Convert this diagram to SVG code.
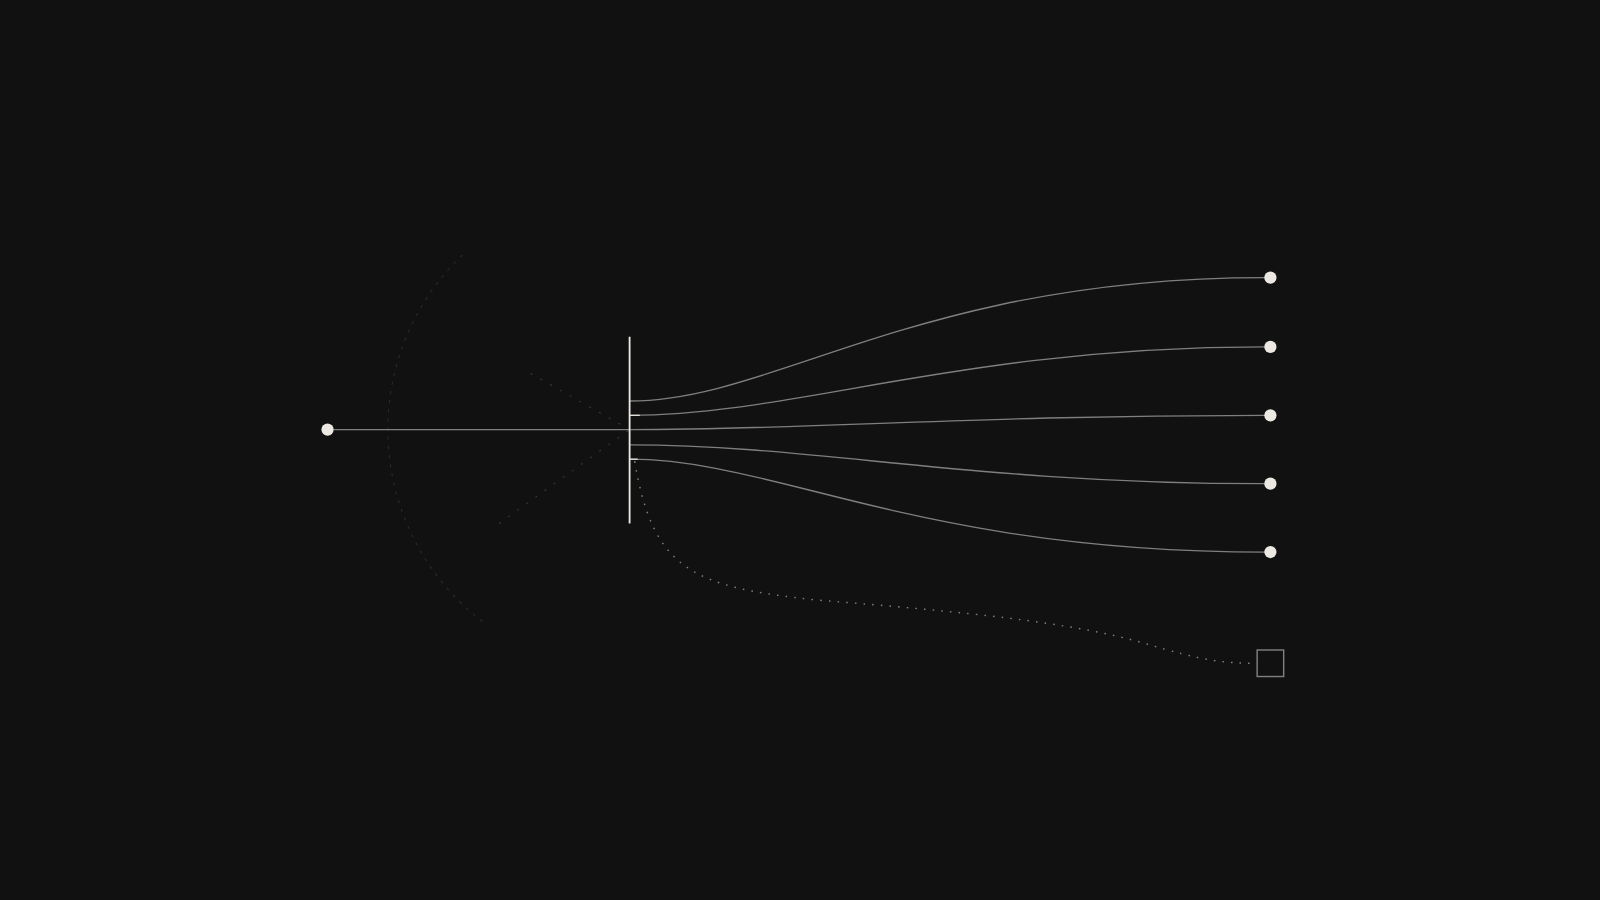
<svg xmlns="http://www.w3.org/2000/svg" width="1600" height="900" viewBox="0 0 1600 900">
<style>
.line{fill:none;stroke:#7f7f7f;stroke-width:1.3}
.dot{fill:#ece9e2}
.faint{fill:none;stroke:#2c2c2c;stroke-width:1;stroke-dasharray:3 6}
.cone{fill:none;stroke:#3a3a3a;stroke-width:1;stroke-dasharray:2 9}
.dotted{fill:none;stroke:#808080;stroke-width:1.4;stroke-dasharray:1.5 7}
</style>
<rect width="1600" height="900" fill="#111111"/>
<g transform="scale(1.020408)">
<g id="guides">
<path class="faint" d="M453,250 A237,237 0 0 0 474,610"/>
<path class="cone" d="M520,366 L617,421"/>
<path class="cone" d="M489,513 L617,421"/>
</g>
<g id="connectors">
<path class="line" d="M327,421 L617,421"/>
<path class="line" d="M617,393 C760,393 900,272 1240,272"/>
<path class="line" d="M617,407 C780,407 940,340 1240,340"/>
<path class="line" d="M617,421 C800,421 950,407 1240,407"/>
<path class="line" d="M617,436 C800,436 950,474 1240,474"/>
<path class="line" d="M617,450 C760,450 900,541 1240,541"/>
<path class="dotted" d="M622,452 C640,560 680,575 800,588 C950,600 1050,610 1120,630 C1180,648 1200,650 1232,650"/>
</g>
<g id="source"><circle class="dot" cx="321" cy="421" r="6"/></g>
<g id="splitter">
<line x1="617" y1="330" x2="617" y2="513" stroke="#ece9e2" stroke-width="1.8"/>
<line x1="617" y1="407" x2="627" y2="407" stroke="#ece9e2" stroke-width="1.2"/>
<line x1="617" y1="450" x2="625" y2="450" stroke="#ece9e2" stroke-width="1.2"/>
</g>
<g id="out1"><circle class="dot" cx="1245" cy="272" r="6"/></g>
<g id="out2"><circle class="dot" cx="1245" cy="340" r="6"/></g>
<g id="out3"><circle class="dot" cx="1245" cy="407" r="6"/></g>
<g id="out4"><circle class="dot" cx="1245" cy="474" r="6"/></g>
<g id="out5"><circle class="dot" cx="1245" cy="541" r="6"/></g>
<g id="sink"><rect x="1232" y="637" width="26" height="26" fill="none" stroke="#808080" stroke-width="1.4"/></g>
</g>
</svg>
